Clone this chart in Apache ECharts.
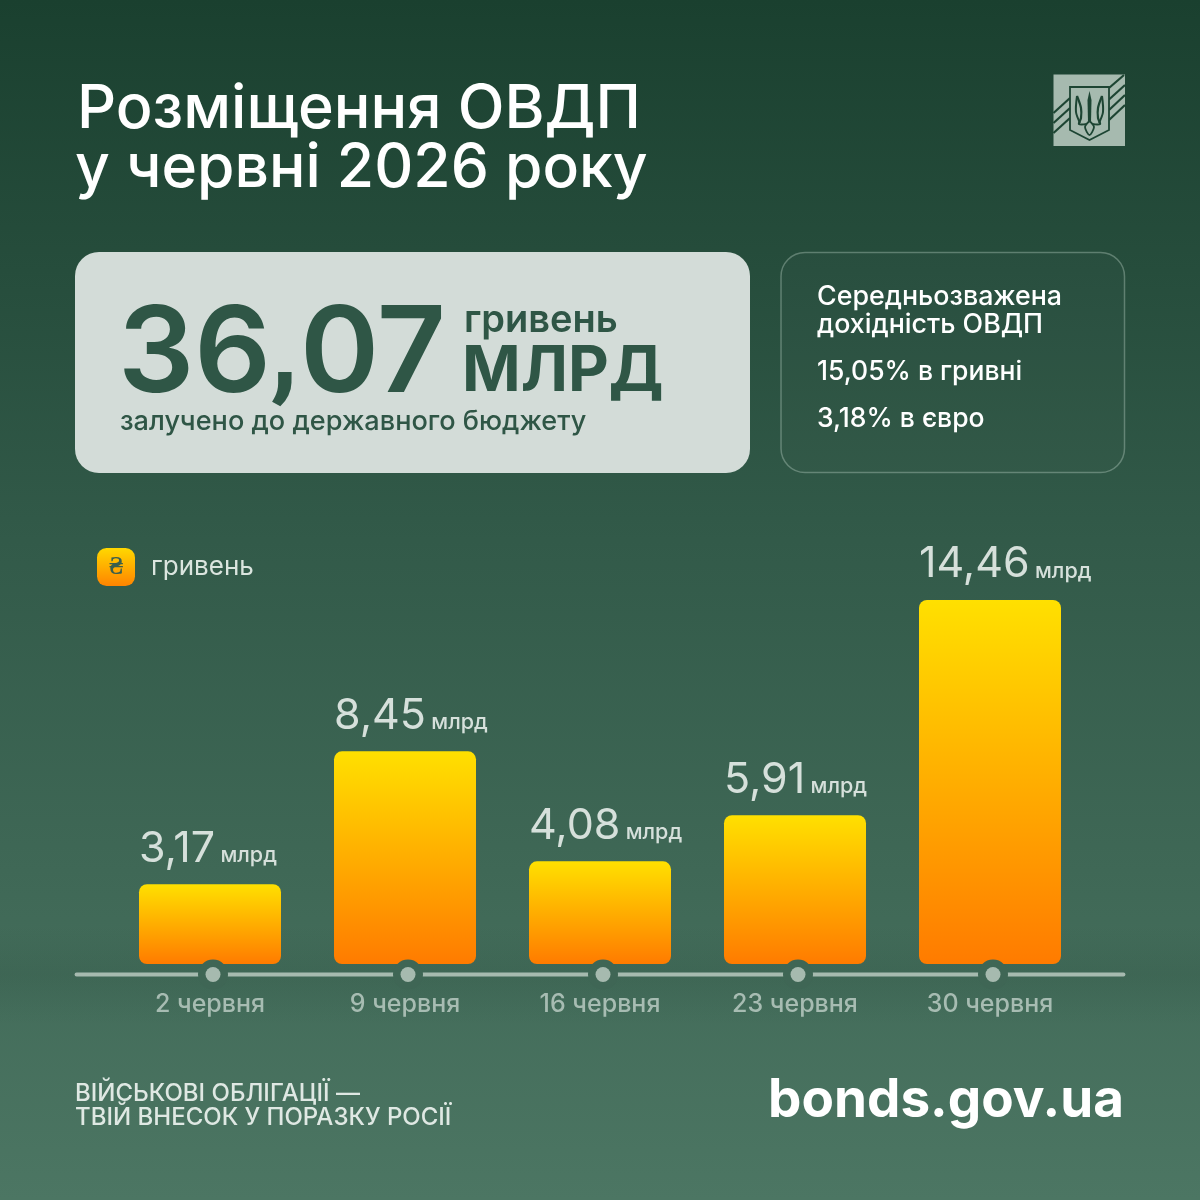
<!DOCTYPE html>
<html><head><meta charset="utf-8">
<script src="https://cdn.jsdelivr.net/npm/echarts@6/dist/echarts.min.js"></script>
<style>html,body{margin:0;padding:0}#c{width:1200px;height:1200px}</style></head>
<body><div id="c"></div>
<script>
const categories = ['2 червня','9 червня','16 червня','23 червня','30 червня'];
const values = [3.17,8.45,4.08,5.91,14.46];
const valueLabels = ['3,17','8,45','4,08','5,91','14,46'];
const unit = 'млрд';
const seriesName = 'гривень';
const titleLines = ['Розміщення ОВДП','у червні 2026 року'];
const totalParts = ['36',',','07'];
const F = 'Inter, "Noto Sans", sans-serif';
const barGrad = new echarts.graphic.LinearGradient(0,0,0,1,[{offset:0,color:'#ffe000'},{offset:1,color:'#ff7b00'}]);
const legendGrad = new echarts.graphic.LinearGradient(0,0,0,1,[{offset:0,color:'#ffd800'},{offset:1,color:'#ff8400'}]);
const chart = echarts.init(document.getElementById('c'),null,{renderer:'canvas',width:1200,height:1200});
function txt(x,y,text,size,weight,fill,align,z,family){
  return {type:'text',x,y,z:z||5,style:{text,fontFamily:family||F,fontSize:size,fontWeight:weight,fill,align:align||'left',verticalAlign:'middle'}};
}
const LOGO_DARK='#1d4533', LOGO_LIGHT='#a6baaf';
function logoLine(pts,w){return {type:'polyline',z:5,shape:{points:pts,smooth:0.3},style:{fill:null,stroke:LOGO_DARK,lineWidth:w||1.5}};}
const bgGraphics = [
  {type:'rect',z:-1,shape:{x:0,y:925,width:1200,height:100},silent:true,
   style:{fill:new echarts.graphic.LinearGradient(0,0,0,1,[{offset:0,color:'rgba(20,50,38,0)'},{offset:.5,color:'rgba(20,50,38,.11)'},{offset:1,color:'rgba(20,50,38,0)'}])}},
  txt(77,109.5,titleLines[0],61,500,'#ffffff'),
  txt(75,169,titleLines[1],60.6,500,'#ffffff'),
  {type:'rect',z:2,shape:{x:75,y:252,width:675,height:221,r:24},style:{fill:'#d3dcd8'}},
  {type:'rect',z:2,shape:{x:781,y:252.5,width:343.5,height:220,r:24},style:{fill:'rgba(255,255,255,0.015)',stroke:'rgba(200,220,210,0.35)',lineWidth:1.5}},
  txt(118,356,totalParts[0],120,600,'#2f5646'),
  txt(270,356,totalParts[1],120,600,'#2f5646','left',5,'Roboto'),
  txt(300,356,totalParts[2],120,600,'#2f5646'),
  txt(464,320.5,seriesName,38,600,'#2f5646'),
  txt(462,372.5,'МЛРД',63,700,'#2f5646'),
  txt(120,422,'залучено до державного бюджету',27.1,500,'#2f5646'),
  txt(817,297,'Середньозважена',26.8,500,'#ffffff'),
  txt(817,325,'дохідність ОВДП',26.8,500,'#ffffff'),
  txt(817,372.5,'15,05% в гривні',26.5,500,'#ffffff'),
  txt(817,419,'3,18% в євро',26.5,500,'#ffffff'),
  txt(75,1093.5,'ВІЙСЬКОВІ ОБЛІГАЦІЇ —',24,500,'#dfe8e3'),
  txt(75,1117.5,'ТВІЙ ВНЕСОК У ПОРАЗКУ РОСІЇ',24,500,'#dfe8e3'),
  txt(1124,1101,'bonds.gov.ua',53,700,'#ffffff','right'),
  txt(116,568,'₴',25,600,'#3a5f4c','center',8,'Roboto'),
  // logo
  {type:'rect',z:3,shape:{x:1053.5,y:74.5,width:71.5,height:71.5},style:{fill:LOGO_LIGHT}},
  ...[[[1124,75],[1109,88]],[[1125,85],[1109,99.5]],[[1125,95],[1109,110]],[[1125,105],[1109,120]],
      [[1070,98],[1053.5,113]],[[1070,108],[1053.5,123]],[[1070,118],[1053.5,133]]].map(l=>({type:'line',z:4,shape:{x1:l[0][0],y1:l[0][1],x2:l[1][0],y2:l[1][1]},style:{stroke:LOGO_DARK,lineWidth:2.2}})),
  {type:'polygon',z:4,shape:{points:[[1070,87],[1109,87],[1109,130],[1089.5,140],[1070,130]]},style:{fill:LOGO_LIGHT,stroke:LOGO_DARK,lineWidth:1.8}},
  {type:'polygon',z:5,shape:{points:[[1089.5,91],[1091.5,100],[1091,122],[1088,122],[1087.5,100]]},style:{fill:LOGO_DARK}},
  logoLine([[1077,96],[1081,108],[1081,118],[1079,124],[1087,124]],2.2),
  logoLine([[1102,96],[1098,108],[1098,118],[1100,124],[1092,124]],2.2),
  logoLine([[1077,96],[1076,112],[1080,123]],2),
  logoLine([[1102,96],[1103,112],[1099,123]],2),
  logoLine([[1089.5,121],[1085,127],[1089.5,135],[1094,127],[1089.5,121]],1.8)
];
chart.setOption({
  animation:false,
  backgroundColor:new echarts.graphic.LinearGradient(0,0,0,1,[{offset:0,color:'#1a402f'},{offset:.45,color:'#325a49'},{offset:1,color:'#4c7663'}]),
  grid:{left:112.5,right:112.5,top:600,bottom:236},
  legend:{left:97,top:548,padding:0,itemWidth:38,itemHeight:38,itemGap:0,data:[{name:seriesName,icon:'roundRect',itemStyle:{color:legendGrad}}],selectedMode:false,
    textStyle:{color:'#dbe5df',fontFamily:F,fontSize:26,fontWeight:400,padding:[4,0,0,11]}},
  xAxis:{type:'category',data:categories,axisTick:{show:false},axisLine:{show:false},
    axisLabel:{color:'#a7bcb2',fontFamily:F,fontSize:25,fontWeight:500,margin:28}},
  yAxis:{type:'value',min:0,max:14.46,show:false,splitLine:{show:false}},
  series:[{type:'bar',name:seriesName,data:values,barWidth:142,z:3,
    itemStyle:{color:barGrad,borderRadius:8},
    label:{show:true,position:[0,-57],align:'left',verticalAlign:'top',
      formatter:p=>`{v|${valueLabels[p.dataIndex]}} {u|${unit}}`,
      rich:{v:{fontFamily:F,fontSize:43,fontWeight:400,color:'#d6e0db'},u:{fontFamily:F,fontSize:21.5,fontWeight:500,color:'#d6e0db',padding:[14,0,0,2]}}}}],
  graphic:bgGraphics
});
// baseline with ringed dots placed from the chart's own category scale
const centers = categories.map((c,i)=>chart.convertToPixel({xAxisIndex:0},i));
const R=15,dy=974.5,dx=3;
const extra=[];
extra.push({type:'line',z:4,shape:{x1:76.5,y1:dy,x2:1123.5,y2:dy},style:{stroke:LOGO_LIGHT,lineWidth:3.8,lineCap:'round'}});
centers.forEach(c=>{
  extra.push({type:'circle',z:20,shape:{cx:c+dx,cy:dy,r:R},style:{fill:'#3f6655'}});
  extra.push({type:'circle',z:21,shape:{cx:c+dx,cy:dy,r:7.5},style:{fill:LOGO_LIGHT}});
});
chart.setOption({graphic:bgGraphics.concat(extra)});
</script></body></html>
